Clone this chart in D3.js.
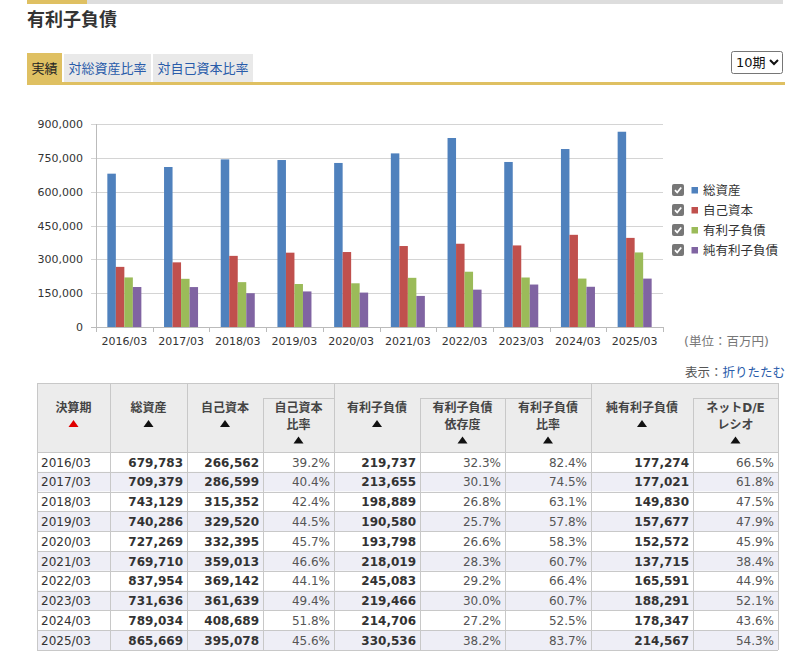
<!DOCTYPE html>
<html>
<head>
<meta charset="utf-8">
<script src="https://cdn.jsdelivr.net/npm/d3@7"></script>
<style>
  body { margin: 0; background: #fff; }
  svg { display: block; font-family: Verdana, "DejaVu Sans", "Noto Sans CJK JP", sans-serif; }
</style>
</head>
<body>
<svg id="page" width="798" height="659"></svg>
<script>
// データ
const periods = ["2016/03", "2017/03", "2018/03", "2019/03", "2020/03", "2021/03", "2022/03", "2023/03", "2024/03", "2025/03"]
const totalAssets = [679783, 709379, 743129, 740286, 727269, 769710, 837954, 731636, 789034, 865669]
const equity = [266562, 286599, 315352, 329520, 332395, 359013, 369142, 361639, 408689, 395078]
const equityRatio = [39.2, 40.4, 42.4, 44.5, 45.7, 46.6, 44.1, 49.4, 51.8, 45.6]
const debt = [219737, 213655, 198889, 190580, 193798, 218019, 245083, 219466, 214706, 330536]
const debtDependence = [32.3, 30.1, 26.8, 25.7, 26.6, 28.3, 29.2, 30.0, 27.2, 38.2]
const debtRatio = [82.4, 74.5, 63.1, 57.8, 58.3, 60.7, 66.4, 60.7, 52.5, 83.7]
const netDebt = [177274, 177021, 149830, 157677, 152572, 137715, 165591, 188291, 178347, 214567]
const netDE = [66.5, 61.8, 47.5, 47.9, 45.9, 38.4, 44.9, 52.1, 43.6, 54.3]
const seriesNames = ["総資産", "自己資本", "有利子負債", "純有利子負債"]
const seriesColors = ["#4f81bd", "#c0504d", "#9bbb59", "#8064a2"]
const yTicks = [0, 150000, 300000, 450000, 600000, 750000, 900000]
const tabs = ["実績", "対総資産比率", "対自己資本比率"]

const svg = d3.select("#page")

// 上部バー
svg.append("rect").attr("x", 27).attr("y", 0).attr("width", 756).attr("height", 4).attr("fill", "#dddddd")
svg.append("rect").attr("x", 27).attr("y", 0).attr("width", 60).attr("height", 4).attr("fill", "#dfc062")

// タイトル
svg.append("text").attr("x", 27).attr("y", 26)
    .attr("font-size", 18).attr("font-weight", "bold").attr("fill", "#333")
    .text("有利子負債")

// タブ
const tabX = [27, 64, 153], tabW = [35, 87, 100]
tabs.forEach((t, i) => {
    svg.append("rect").attr("x", tabX[i]).attr("y", i == 0 ? 53 : 54)
        .attr("width", tabW[i]).attr("height", i == 0 ? 30 : 28)
        .attr("fill", i == 0 ? "#dfc062" : "#e9e9e9")
    svg.append("text").attr("x", tabX[i] + tabW[i] / 2).attr("y", 73)
        .attr("text-anchor", "middle").attr("font-size", 13)
        .attr("fill", i == 0 ? "#222" : "#2a5caa")
        .text(t)
})
svg.append("rect").attr("x", 27).attr("y", 82).attr("width", 758).attr("height", 3).attr("fill", "#dfc062")

// 期数セレクト
svg.append("rect").attr("x", 731.5).attr("y", 51.5).attr("width", 51).attr("height", 22).attr("rx", 2)
    .attr("fill", "#fff").attr("stroke", "#767676")
svg.append("text").attr("x", 736).attr("y", 67).attr("font-size", 13).attr("fill", "#111").text("10期")
svg.append("path").attr("d", "M770,60 L774,64 L778,60").attr("fill", "none")
    .attr("stroke", "#111").attr("stroke-width", 2)

// グラフ
const plot = { left: 96, right: 663, top: 124, bottom: 327 }
const x0 = d3.scaleBand().domain(periods).range([plot.left, plot.right])
const x1 = d3.scaleBand().domain(seriesNames)
    .range([x0.bandwidth() * 0.2, x0.bandwidth() * 0.8])
const y = d3.scaleLinear().domain([0, 900000]).range([plot.bottom, plot.top])

const chart = svg.append("g").attr("font-size", 11)

// 目盛り線
chart.selectAll(".grid").data(yTicks).enter().append("line")
    .attr("x1", plot.left - 5).attr("x2", plot.right)
    .attr("y1", d => Math.round(y(d)) + 0.5).attr("y2", d => Math.round(y(d)) + 0.5)
    .attr("stroke", d => d == 0 ? "#bbbbbb" : "#d4d4d4")
chart.selectAll(".ylab").data(yTicks).enter().append("text")
    .attr("x", 83).attr("y", d => y(d) + 4)
    .attr("text-anchor", "end").attr("fill", "#333")
    .text(d => d3.format(",")(d))
chart.append("line").attr("x1", plot.left + 0.5).attr("x2", plot.left + 0.5)
    .attr("y1", plot.top).attr("y2", plot.bottom).attr("stroke", "#bbbbbb")

// 横軸
const edges = periods.map(p => x0(p)).concat([plot.right])
chart.selectAll(".xtick").data(edges).enter().append("line")
    .attr("x1", d => Math.round(d) + 0.5).attr("x2", d => Math.round(d) + 0.5)
    .attr("y1", plot.bottom).attr("y2", plot.bottom + 5).attr("stroke", "#bbbbbb")
chart.selectAll(".xlab").data(periods).enter().append("text")
    .attr("x", d => x0(d) + x0.bandwidth() / 2).attr("y", 345)
    .attr("text-anchor", "middle").attr("fill", "#333")
    .text(d => d)

// 棒
const seriesValues = [totalAssets, equity, debt, netDebt]
periods.forEach((p, i) => {
    const g = chart.append("g").attr("transform", "translate(" + x0(p) + ",0)")
    seriesNames.forEach((s, k) => {
        const v = seriesValues[k][i]
        g.append("rect")
            .attr("x", x1(s)).attr("width", x1.bandwidth())
            .attr("y", y(v)).attr("height", plot.bottom - y(v))
            .attr("fill", seriesColors[k])
    })
})

// 凡例
seriesNames.forEach((s, k) => {
    const cy = 190 + k * 20
    const lg = svg.append("g").attr("transform", "translate(672," + (cy - 6) + ")")
    lg.append("rect").attr("width", 12).attr("height", 12).attr("rx", 2).attr("fill", "#777")
    lg.append("path").attr("d", "M3,6.2 L5.2,8.5 L9.2,3.5").attr("fill", "none")
        .attr("stroke", "#fff").attr("stroke-width", 1.8)
    lg.append("rect").attr("x", 19.5).attr("y", 3).attr("width", 6.5).attr("height", 6.5)
        .attr("fill", seriesColors[k])
    lg.append("text").attr("x", 31).attr("y", 10.5).attr("font-size", 12.5)
        .attr("fill", "#333").text(s)
})

svg.append("text").attr("x", 684).attr("y", 346).attr("font-size", 12.5).attr("fill", "#777")
    .text("(単位：百万円)")
const fold = svg.append("text").attr("x", 785).attr("y", 377).attr("text-anchor", "end").attr("font-size", 12.5)
fold.append("tspan").attr("fill", "#555").text("表示：")
fold.append("tspan").attr("fill", "#2a5caa").text("折りたたむ")

// 表
const cols = [37, 110, 187, 263, 334, 420, 505, 591, 693, 778]
const tTop = 383, tSub = 398, tHead = 452, rowH = 19.8
const border = "#c8c8c8"
const table = svg.append("g")

table.append("rect").attr("x", cols[0]).attr("y", tTop)
    .attr("width", cols[9] - cols[0]).attr("height", tHead - tTop).attr("fill", "#ececec")
periods.forEach((p, i) => {
    table.append("rect").attr("x", cols[0]).attr("y", tHead + i * rowH)
        .attr("width", cols[9] - cols[0]).attr("height", rowH)
        .attr("fill", i % 2 ? "#eeeef6" : "#ffffff")
})

// 見出し
const headers = [
    { col: 0, lines: ["決算期"], sub: false, red: true },
    { col: 1, lines: ["総資産"], sub: false },
    { col: 2, lines: ["自己資本"], sub: false },
    { col: 3, lines: ["自己資本", "比率"], sub: true },
    { col: 4, lines: ["有利子負債"], sub: false },
    { col: 5, lines: ["有利子負債", "依存度"], sub: true },
    { col: 6, lines: ["有利子負債", "比率"], sub: true },
    { col: 7, lines: ["純有利子負債"], sub: false },
    { col: 8, lines: ["ネットD/E", "レシオ"], sub: true }
]
headers.forEach(h => {
    const cx = (cols[h.col] + cols[h.col + 1]) / 2
    h.lines.forEach((l, j) => {
        table.append("text").attr("x", cx).attr("y", 412 + j * 16.5)
            .attr("text-anchor", "middle").attr("font-size", 12).attr("font-weight", "bold")
            .attr("fill", "#444").text(l)
    })
    const ty = 420 + h.lines.length * 16.5 - 16.5
    table.append("path")
        .attr("d", "M" + (cx - 5) + "," + (ty + 7) + " L" + (cx + 5) + "," + (ty + 7) + " L" + cx + "," + ty + " Z")
        .attr("fill", h.red ? "#e00000" : "#111")
    if (h.sub) {
        table.append("line").attr("x1", cols[h.col]).attr("x2", cols[h.col + 1])
            .attr("y1", tSub + 0.5).attr("y2", tSub + 0.5).attr("stroke", border)
    }
})

// 罫線
const fullCols = [0, 1, 2, 4, 7, 9]
cols.forEach((c, i) => {
    table.append("line").attr("x1", c + 0.5).attr("x2", c + 0.5)
        .attr("y1", fullCols.includes(i) ? tTop : tSub).attr("y2", tHead + rowH * 10)
        .attr("stroke", border)
})
d3.range(11).forEach(i => {
    table.append("line").attr("x1", cols[0]).attr("x2", cols[9])
        .attr("y1", Math.round(tHead + i * rowH) + 0.5).attr("y2", Math.round(tHead + i * rowH) + 0.5)
        .attr("stroke", border)
})
table.append("line").attr("x1", cols[0]).attr("x2", cols[9])
    .attr("y1", tTop + 0.5).attr("y2", tTop + 0.5).attr("stroke", border)

// 数値
const fmt = d3.format(",")
const pct = d => d.toFixed(1) + "%"
const colData = [
    { vals: periods, f: d => d, bold: false, left: true },
    { vals: totalAssets, f: fmt, bold: true },
    { vals: equity, f: fmt, bold: true },
    { vals: equityRatio, f: pct, bold: false },
    { vals: debt, f: fmt, bold: true },
    { vals: debtDependence, f: pct, bold: false },
    { vals: debtRatio, f: pct, bold: false },
    { vals: netDebt, f: fmt, bold: true },
    { vals: netDE, f: pct, bold: false }
]
colData.forEach((c, k) => {
    c.vals.forEach((v, i) => {
        table.append("text")
            .attr("x", c.left ? cols[k] + 4 : cols[k + 1] - 4)
            .attr("y", tHead + i * rowH + 14.5)
            .attr("text-anchor", c.left ? "start" : "end")
            .attr("font-size", 12)
            .attr("font-weight", c.bold ? "bold" : "normal")
            .attr("fill", c.bold || c.left ? "#333" : "#555")
            .text(c.f(v))
    })
})
</script>
</body>
</html>
